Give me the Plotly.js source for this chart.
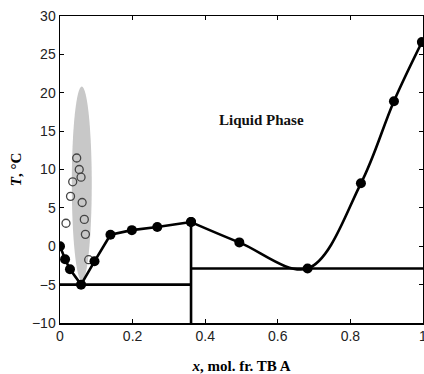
<!DOCTYPE html>
<html><head><meta charset="utf-8">
<script src="https://cdn.plot.ly/plotly-3.0.1.min.js"></script>
<style>html,body{margin:0;padding:0;background:#fff;overflow:hidden}#chart{width:424px;height:374px}</style>
</head><body><div id="chart"></div>
<script>
// Liquidus (filled points)
const liqLeftX = [0, 0.014, 0.0275, 0.058, 0.095, 0.139, 0.198, 0.268, 0.361];
const liqLeftY = [0, -1.7, -3.0, -5.0, -1.96, 1.5, 2.1, 2.5, 3.15];
const liqRightX = [0.361, 0.494, 0.682, 0.829, 0.92, 0.997];
const liqRightY = [3.15, 0.5, -2.9, 8.2, 18.9, 26.6];
// Metastable points (open circles)
const openX = [0.046, 0.053, 0.058, 0.035, 0.029, 0.061, 0.0165, 0.067, 0.070, 0.079];
const openY = [11.5, 10.0, 9.0, 8.4, 6.5, 5.7, 3.0, 3.5, 1.55, -1.75];
// Eutectic / peritectic lines
const eut1X = [0, 0.361], eut1Y = [-5.0, -5.0];
const vertX = [0.361, 0.361], vertY = [-10, 3.15];
const eut2X = [0.361, 1], eut2Y = [-2.9, -2.9];
// Shaded region (ellipse bounds)
const ellX = [0.0325, 0.0875], ellY = [-4.5, 20.8];

const lineStyle = {color: '#000', width: 2.6};
const traces = [
  {x: eut1X, y: eut1Y, mode: 'lines', line: lineStyle, hoverinfo: 'skip'},
  {x: vertX, y: vertY, mode: 'lines', line: lineStyle, hoverinfo: 'skip'},
  {x: eut2X, y: eut2Y, mode: 'lines', line: lineStyle, hoverinfo: 'skip'},
  {x: openX, y: openY, mode: 'markers', marker: {symbol: 'circle-open', size: 8, color: '#444', line: {width: 1.3}}},
  {x: liqLeftX, y: liqLeftY, mode: 'lines+markers', line: lineStyle, marker: {size: 10, color: '#000'}},
  {x: liqRightX, y: liqRightY, mode: 'lines+markers', line: {color: '#000', width: 2.6, shape: 'spline', smoothing: 1}, marker: {size: 10, color: '#000'}}
];

const tickFont = {family: 'Liberation Sans, Arial, sans-serif', size: 14, color: '#222'};
const titleFont = {family: 'Liberation Serif, Times New Roman, serif', size: 15, color: '#000', weight: 'bold'};

const layout = {
  width: 424, height: 374,
  margin: {l: 60, r: 1, t: 16, b: 51},
  showlegend: false,
  paper_bgcolor: '#fff', plot_bgcolor: '#fff',
  xaxis: {
    range: [0, 1], tickvals: [0, 0.2, 0.4, 0.6, 0.8, 1], ticktext: ['0', '0.2', '0.4', '0.6', '0.8', '1'],
    ticks: 'inside', ticklen: 4, tickwidth: 1, tickcolor: '#000',
    showline: true, linecolor: '#000', linewidth: 1.5, mirror: 'ticks',
    showgrid: false, zeroline: false, tickfont: tickFont, ticklabeloverflow: 'allow',
    title: {text: '<i>x</i>, mol. fr. TB A', font: titleFont, standoff: 17}
  },
  yaxis: {
    range: [-10, 30], tickvals: [-10, -5, 0, 5, 10, 15, 20, 25, 30],
    ticktext: ['\u221210', '\u22125', '0', '5', '10', '15', '20', '25', '30'],
    ticks: 'inside', ticklen: 4, tickwidth: 1, tickcolor: '#000',
    showline: true, linecolor: '#000', linewidth: 1.5, mirror: 'ticks',
    showgrid: false, zeroline: false, tickfont: tickFont,
    title: {text: '<i>T</i>, °C', font: titleFont, standoff: 6}
  },
  shapes: [
    {type: 'circle', xref: 'x', yref: 'y', x0: ellX[0], x1: ellX[1], y0: ellY[0], y1: ellY[1],
     fillcolor: '#c8c8c8', line: {width: 0}, layer: 'below'}
  ],
  annotations: [
    {x: 0.556, y: 16.4, xref: 'x', yref: 'y', text: '<b>Liquid Phase</b>', showarrow: false,
     font: {family: 'Liberation Serif, Times New Roman, serif', size: 15, color: '#111'}}
  ]
};
Plotly.newPlot('chart', traces, layout, {staticPlot: true, displayModeBar: false});
</script></body></html>
